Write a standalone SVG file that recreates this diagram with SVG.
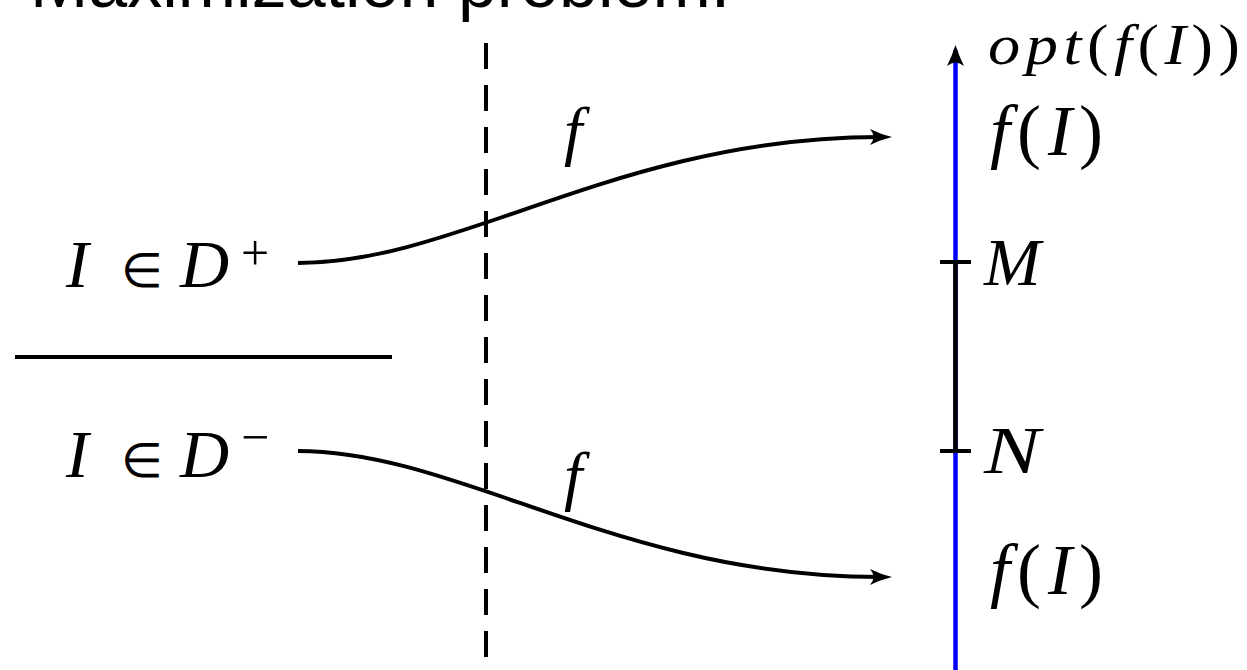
<svg xmlns="http://www.w3.org/2000/svg" width="1247" height="670" viewBox="0 0 1247 670">
<style>
.m{font-family:"Liberation Serif","Times New Roman",serif;fill:#000}
.i{font-style:italic}
.ln{stroke:#000;stroke-width:4;fill:none}
.title{font-family:"Liberation Sans",Arial,sans-serif;font-size:70px;fill:#000}
.tip{fill:#000}
</style>
<defs>
<path id="arrowR" d="M0,0 Q-12,-3 -22,-8 Q-15,0 -22,8 Q-12,3 0,0 Z"/>
</defs>
<rect width="1247" height="670" fill="#fff"/>
<text class="title" x="30" y="7">Maximization problem:</text>

<g id="divider">
<line class="ln" x1="486" y1="43" x2="486" y2="670" stroke-dasharray="26,16"/>
<line class="ln" x1="15" y1="357" x2="392" y2="357"/>
</g>

<g id="axis">
<line x1="955.5" y1="670" x2="955.5" y2="50" stroke="#0000ff" stroke-width="4.5"/>
<path d="M955.5,45 Q952,56 947,66 Q955.5,59 964,66 Q959,56 955.5,45 Z" class="tip"/>
<line x1="955.5" y1="262" x2="955.5" y2="451" stroke="#000" stroke-width="4.5"/>
<line class="ln" x1="940" y1="262" x2="971" y2="262"/>
<line class="ln" x1="940" y1="451" x2="971" y2="451"/>
</g>

<g id="label-opt"><text class="m" transform="translate(988,64) scale(1.15,1)" x="0" y="0" font-size="56" textLength="219" lengthAdjust="spacing"><tspan class="i">opt</tspan>(<tspan class="i">f</tspan>(<tspan class="i">I</tspan>))</text></g>
<g id="label-fI-top"><text class="m" x="990" y="155" font-size="72" textLength="113" lengthAdjust="spacing"><tspan class="i">f</tspan>(<tspan class="i">I</tspan>)</text></g>
<g id="label-M"><text class="m i" x="984" y="285" font-size="68">M</text></g>
<g id="label-N"><text class="m i" x="984" y="473" font-size="68" textLength="56" lengthAdjust="spacingAndGlyphs">N</text></g>
<g id="label-fI-bot"><text class="m" x="990" y="594" font-size="72" textLength="113" lengthAdjust="spacing"><tspan class="i">f</tspan>(<tspan class="i">I</tspan>)</text></g>

<g id="node-Dplus"><text class="m" font-size="68"><tspan class="i" x="66" y="287">I</tspan><tspan x="121" y="287" font-size="48">∈</tspan><tspan class="i" x="180" y="287">D</tspan><tspan x="241" y="270" font-size="50">+</tspan></text></g>
<g id="node-Dminus"><text class="m" font-size="68"><tspan class="i" x="66" y="477">I</tspan><tspan x="121" y="477" font-size="48">∈</tspan><tspan class="i" x="180" y="477">D</tspan><tspan x="241" y="454" font-size="50">−</tspan></text></g>

<g id="connectors">
<path class="ln" d="M298,263 C460,263 620,137 880,137"/>
<use href="#arrowR" x="892" y="137" class="tip"/>
<path class="ln" d="M298,451 C460,451 620,577 880,577"/>
<use href="#arrowR" x="892" y="577" class="tip"/>
<text class="m i" x="564" y="153" font-size="66">f</text>
<text class="m i" x="564" y="498" font-size="66">f</text>
</g>
</svg>
